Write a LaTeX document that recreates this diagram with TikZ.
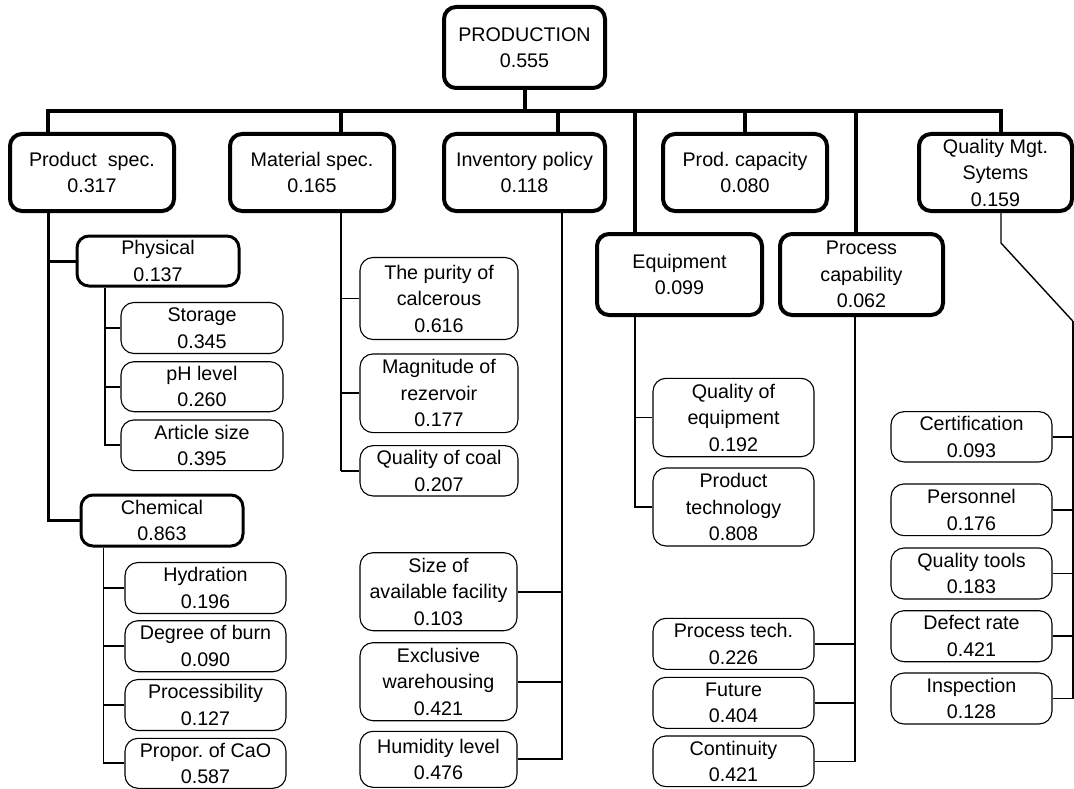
\documentclass[tikz,border=0pt]{standalone}
\usepackage{fontspec}
\setmainfont{Liberation Sans}
\frenchspacing
\begin{document}
\begin{tikzpicture}[x=1pt,y=-1pt,
  box/.style={draw, rounded corners=12pt, align=center, inner sep=0pt, font=\fontsize{19.7}{26.5}\selectfont},
  lvone/.style={box, line width=4pt},
  lvtwo/.style={box, line width=3pt},
  lvtwob/.style={box, line width=4pt},
  leaf/.style={box, line width=1.1pt, rounded corners=13pt},
  thickln/.style={line width=4pt},
  medln/.style={line width=3pt},
  thinln/.style={line width=1.9pt},
  hairln/.style={line width=1.4pt}]
\useasboundingbox (0,0) rectangle (1074,789);
\fill[white] (0,0) rectangle (1074,789);

% root
\node[lvone, minimum width=161pt, minimum height=81pt] (prod) at (524.5,47.5) {PRODUCTION\\0.555};

% level 1
\node[lvone, minimum width=164pt, minimum height=77pt] (ps) at (92,172.5) {Product~ spec.\\0.317};
\node[lvone, minimum width=164pt, minimum height=77pt] (ms) at (312,172.5) {Material spec.\\0.165};
\node[lvone, minimum width=161pt, minimum height=77pt] (inv) at (524.5,172.5) {Inventory policy\\0.118};
\node[lvone, minimum width=164pt, minimum height=77pt] (pcap) at (745,172.5) {Prod. capacity\\0.080};
\node[lvone, minimum width=153pt, minimum height=77pt] (qms) at (995.5,172.5) {Quality Mgt.\\Sytems\\0.159};
\node[lvtwob, minimum width=165pt, minimum height=81pt] (eq) at (679.5,274.5) {Equipment\\0.099};
\node[lvtwob, minimum width=163pt, minimum height=81pt] (prc) at (861.5,274.5) {Process\\capability\\0.062};

% product spec subtree
\node[lvtwo, minimum width=162pt, minimum height=50pt] (phys) at (158,261) {Physical\\0.137};
\node[lvtwo, minimum width=162pt, minimum height=51pt] (chem) at (162,520.5) {Chemical\\0.863};
\node[leaf, minimum width=162pt, minimum height=51pt] (stor) at (202,328) {Storage\\0.345};
\node[leaf, minimum width=162pt, minimum height=50pt] (ph) at (202,386.7) {pH level\\0.260};
\node[leaf, minimum width=162pt, minimum height=50.7pt] (art) at (202,445.3) {Article size\\0.395};
\node[leaf, minimum width=161pt, minimum height=51pt] (hyd) at (205.5,588) {Hydration\\0.196};
\node[leaf, minimum width=161pt, minimum height=51pt] (deg) at (205.5,646.2) {Degree of burn\\0.090};
\node[leaf, minimum width=161pt, minimum height=51pt] (proc) at (205.5,705) {Processibility\\0.127};
\node[leaf, minimum width=161pt, minimum height=50pt] (cao) at (205.5,763.3) {Propor. of CaO\\0.587};

% material spec subtree
\node[leaf, minimum width=158pt, minimum height=82pt] (pur) at (439,298.5) {The purity of\\calcerous\\0.616};
\node[leaf, minimum width=158pt, minimum height=78.7pt] (mag) at (439,393.3) {Magnitude of\\rezervoir\\0.177};
\node[leaf, minimum width=158pt, minimum height=50.3pt] (coal) at (439,470.8) {Quality of coal\\0.207};

% inventory subtree
\node[leaf, minimum width=157pt, minimum height=78pt] (size) at (438.5,591.7) {Size of\\available facility\\0.103};
\node[leaf, minimum width=157pt, minimum height=78pt] (excl) at (438.5,681.7) {Exclusive\\warehousing\\0.421};
\node[leaf, minimum width=157pt, minimum height=56pt] (hum) at (438.5,759.3) {Humidity level\\0.476};

% equipment subtree
\node[leaf, minimum width=161pt, minimum height=78.4pt] (qeq) at (733.5,417.5) {Quality of\\equipment\\0.192};
\node[leaf, minimum width=161pt, minimum height=78pt] (ptec) at (733.5,507) {Product\\technology\\0.808};

% process capability subtree
\node[leaf, minimum width=161pt, minimum height=51pt] (prt) at (733.5,643.8) {Process tech.\\0.226};
\node[leaf, minimum width=161pt, minimum height=51pt] (fut) at (733.5,702.8) {Future\\0.404};
\node[leaf, minimum width=161pt, minimum height=50.7pt] (cont) at (733.5,761.3) {Continuity\\0.421};

% quality mgt subtree
\node[leaf, minimum width=161pt, minimum height=50.3pt] (cert) at (971.5,436.8) {Certification\\0.093};
\node[leaf, minimum width=161pt, minimum height=51.7pt] (pers) at (971.5,509.8) {Personnel\\0.176};
\node[leaf, minimum width=161pt, minimum height=51pt] (qt) at (971.5,573.5) {Quality tools\\0.183};
\node[leaf, minimum width=161pt, minimum height=51pt] (def) at (971.5,636.2) {Defect rate\\0.421};
\node[leaf, minimum width=161pt, minimum height=51pt] (insp) at (971.5,698.5) {Inspection\\0.128};

% coordinates
\coordinate (barL) at (48,111);
\coordinate (barR) at (1001,111);
\coordinate (msx) at (341,111);
\coordinate (invx) at (557.5,111);
\coordinate (eqx) at (635,111);
\coordinate (prcx) at (856,111);
\coordinate (phx) at (105,0);
\coordinate (chx) at (103.5,0);
\coordinate (ivx) at (561.7,0);
\coordinate (pcx) at (855,0);
\coordinate (qbend) at (1001,243);
\coordinate (qdiag) at (1072.7,321);

% top level connectors
\draw[thickln] (prod.south) -- (prod.south |- barL);
\draw[thickln, line cap=rect] (barL) -- (barR);
\draw[thickln] (barL) -- (barL |- ps.north);
\draw[thickln] (msx) -- (msx |- ms.north);
\draw[thickln] (invx) -- (invx |- inv.north);
\draw[thickln] (pcap.north |- barL) -- (pcap.north);
\draw[thickln] (eqx) -- (eqx |- eq.north);
\draw[thickln] (prcx) -- (prcx |- prc.north);
\draw[thickln] (barR) -- (barR |- qms.north);

% product spec
\draw[medln] (barL |- ps.south) |- (chem.west);
\draw[medln] (barL |- phys.west) -- (phys.west);
\draw[thinln] (phx |- phys.south) |- (art.west);
\draw[thinln] (phx |- stor.west) -- (stor.west);
\draw[thinln] (phx |- ph.west) -- (ph.west);
\draw[thinln] (chx |- chem.south) |- (cao.west);
\draw[thinln] (chx |- hyd.west) -- (hyd.west);
\draw[thinln] (chx |- deg.west) -- (deg.west);
\draw[thinln] (chx |- proc.west) -- (proc.west);

% material spec
\draw[hairln] (msx |- ms.south) -- (msx |- coal.west);
\draw[thinln] (msx |- coal.west) -- (coal.west);
\draw[thinln] (msx |- pur.west) -- (pur.west);
\draw[thinln] (msx |- mag.west) -- (mag.west);

% inventory
\draw[thinln] (ivx |- inv.south) |- (hum.east);
\draw[thinln] (size.east) -- (size.east -| ivx);
\draw[thinln] (excl.east) -- (excl.east -| ivx);

% equipment
\draw[thinln] (eqx |- eq.south) |- (ptec.west);
\draw[thinln] (eqx |- qeq.west) -- (qeq.west);

% process capability
\draw[hairln] (pcx |- prc.south) |- (cont.east);
\draw[thinln] (prt.east) -- (prt.east -| pcx);
\draw[thinln] (fut.east) -- (fut.east -| pcx);

% quality mgt
\draw[hairln] (barR |- qms.south) -- (qbend) -- (qdiag);
\draw[thinln] (qdiag) |- (insp.east);
\draw[thinln] (cert.east) -- (cert.east -| qdiag);
\draw[thinln] (pers.east) -- (pers.east -| qdiag);
\draw[thinln] (qt.east) -- (qt.east -| qdiag);
\draw[thinln] (def.east) -- (def.east -| qdiag);
\end{tikzpicture}
\end{document}
